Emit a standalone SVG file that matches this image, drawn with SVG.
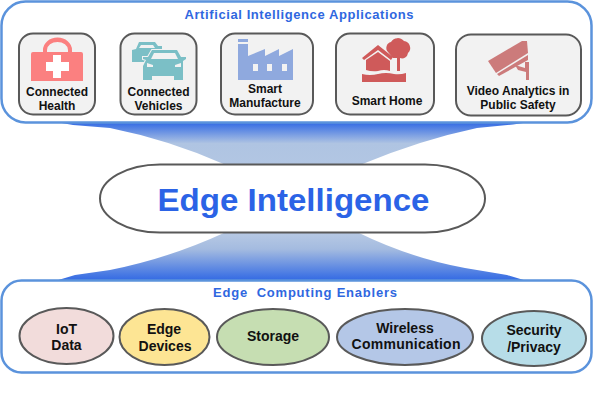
<svg xmlns="http://www.w3.org/2000/svg" width="594" height="408" viewBox="0 0 594 408">
<style>
text{font-family:"Liberation Sans",Arial,sans-serif;font-weight:bold;text-anchor:middle;fill:#111;white-space:pre}
.t{fill:#2f67e0;font-size:13px}
.l{font-size:12px}
.e{font-size:14px}
.panel{fill:#fff;stroke:#5b93dc;stroke-width:2.5}
.card{fill:#f2f2f2;stroke:#595959;stroke-width:2}
.oval{stroke:#595959;stroke-width:2}
</style>
<defs>
<linearGradient id="gt" x1="0" y1="0" x2="0" y2="1"><stop offset="0" stop-color="#3068e4"/><stop offset=".5" stop-color="#afc4e2"/><stop offset="1" stop-color="#b2c6e3"/></linearGradient>
<linearGradient id="gb" x1="0" y1="1" x2="0" y2="0"><stop offset="0" stop-color="#3068e4"/><stop offset=".65" stop-color="#a4bbe0"/><stop offset="1" stop-color="#b8cae4"/></linearGradient>
</defs>
<g id="connectors">
<path d="M56 122H530L513 124.500L477 128Q420 140 360 165H226Q170 140 110 128L73 125Z" fill="url(#gt)"/>
<path d="M226 232H357Q410 258 465 268L507 275L527 281H55L75 275L110 270Q170 258 226 232Z" fill="url(#gb)"/>
</g>
<g id="applications">
<rect class="panel" x="1.5" y="1.5" width="590" height="121" rx="24"/>
<text class="t" x="299" y="19" textLength="229" lengthAdjust="spacing">Artificial Intelligence Applications</text>
</g>
<g id="connected-health">
<rect class="card" x="19" y="33.500" width="76" height="81" rx="14"/>
<path d="M33 52H43V50A14 12 0 0 1 72 50V52H81Q83 52 83 54V81H31V54Q31 52 33 52ZM47 52H68V50A10.500 8 0 0 0 47 50Z" fill="#fb8080" fill-rule="evenodd"/>
<path d="M53 55H61V62H69V71H61V78H53V71H46V62H53Z" fill="#fff"/>
<text class="l" x="57" y="96">Connected</text>
<text class="l" x="57" y="110">Health</text>
</g>
<g id="connected-vehicles">
<rect class="card" x="120.500" y="33.500" width="76" height="81" rx="14"/>
<path d="M132 62V50L136 49L139 42H155L158 46H162V49H160V62Z" fill="#7bbfc6"/>
<path d="M141 45H153L155 48H139Z" fill="#f2f2f2"/>
<path d="M143 80V66L146 60L143 59V57H148L152 50H177L181 57H186V59L183 61V80H174V76H152V80Z" fill="#7bbfc6" stroke="#f2f2f2" stroke-width="2" paint-order="stroke"/>
<path d="M154 53H175L178 59H151Z" fill="#f2f2f2"/>
<path d="M147 63L153 65V67H147ZM181 63L175 65V67H181Z" fill="#f2f2f2"/>
<text class="l" x="158.500" y="96">Connected</text>
<text class="l" x="158.500" y="110">Vehicles</text>
</g>
<g id="smart-manufacture">
<rect class="card" x="221" y="33.500" width="92" height="81" rx="14"/>
<path d="M238 39H248V42H238ZM238 44H248V56L265 49V56L279 49V56L293 49V80H238Z" fill="#8fa9de"/>
<path d="M253 64H258V71H253ZM267 64H272V71H267ZM282 64H287V71H282Z" fill="#f2f2f2"/>
<text class="l" x="265" y="93">Smart</text>
<text class="l" x="265" y="107">Manufacture</text>
</g>
<g id="smart-home">
<rect class="card" x="336" y="33.500" width="98" height="81" rx="14"/>
<path d="M397 56H400V71H397ZM388 52A6 6 0 0 1 391 42A8 8 0 0 1 404 41A7 7 0 0 1 408 53A6 6 0 0 1 400 58H393Z" fill="#cf5a5a"/>
<path d="M362 58L378 45L393 57L391 60L378 50L364 60Z" fill="#cf5a5a"/>
<path d="M366 60L378 52L390 61V71Q384 69 378 71Q372 72 366 70Z" fill="#cf5a5a"/>
<path d="M362 74Q370 76 378 74Q386 72 394 74Q400 75 406 73V82H362Z" fill="#cf5a5a"/>
<text class="l" x="387" y="105">Smart Home</text>
</g>
<g id="video-analytics">
<rect class="card" x="456" y="34.500" width="125" height="81" rx="15"/>
<path d="M488 61L522 41L527 41L528 53L496 73Z" fill="#cc7b7b"/>
<path d="M497 74L528 55V60L499 76Z" fill="#cc7b7b"/>
<path d="M515 65L525 68L525 62H529V80H526V72L518 70Z" fill="#cc7b7b"/>
<text class="l" x="518" y="95">Video Analytics in</text>
<text class="l" x="518" y="109">Public Safety</text>
</g>
<g id="edge-intelligence">
<rect x="100" y="164.500" width="385" height="68" rx="60" ry="34" fill="#fff" stroke="#595959" stroke-width="2"/>
<text x="293.500" y="211" font-size="32" style="fill:#2b63e6" textLength="272" lengthAdjust="spacingAndGlyphs">Edge Intelligence</text>
</g>
<g id="enablers">
<rect class="panel" x="1.5" y="280.500" width="590" height="92" rx="20"/>
<text class="t" x="305" y="297" textLength="184" lengthAdjust="spacing">Edge  Computing Enablers</text>
</g>
<g id="iot-data">
<ellipse class="oval" cx="66.500" cy="336" rx="47" ry="28" fill="#f2dcdb"/>
<text class="e" x="66.500" y="334">IoT</text><text class="e" x="66.500" y="350">Data</text>
</g>
<g id="edge-devices">
<ellipse class="oval" cx="164.500" cy="337" rx="45" ry="28" fill="#fde594"/>
<text class="e" x="164" y="334">Edge</text><text class="e" x="165" y="351">Devices</text>
</g>
<g id="storage">
<ellipse class="oval" cx="273" cy="337" rx="56" ry="28" fill="#c6deb2"/>
<text class="e" x="273" y="341">Storage</text>
</g>
<g id="wireless">
<ellipse class="oval" cx="405" cy="337" rx="68" ry="28" fill="#b4c7e7"/>
<text class="e" x="405" y="333">Wireless</text><text class="e" x="406" y="349" textLength="109" lengthAdjust="spacing">Communication</text>
</g>
<g id="security">
<ellipse class="oval" cx="534" cy="338.500" rx="52" ry="27.500" fill="#b7dde8"/>
<text class="e" x="534" y="335">Security</text><text class="e" x="534" y="352">/Privacy</text>
</g>
</svg>
